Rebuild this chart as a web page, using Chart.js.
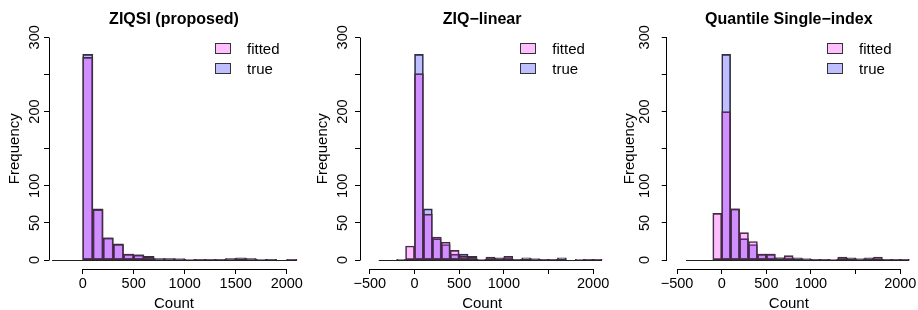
<!DOCTYPE html>
<html>
<head>
<meta charset="utf-8">
<script src="https://cdn.jsdelivr.net/npm/chart.js@4.4.0/dist/chart.umd.min.js"></script>
<style>
  body { margin: 0; background: #fff; width: 918px; height: 310px; position: relative; overflow: hidden; }
  canvas { position: absolute; top: 0; }
</style>
</head>
<body>
<canvas id="p1" width="306" height="310" style="left:0px"></canvas>
<canvas id="p2" width="306" height="310" style="left:306px"></canvas>
<canvas id="p3" width="306" height="310" style="left:612px"></canvas>
<script>
// histogram bins: left edges, each 100 wide
const binLefts = [-400, -300, -200, -100, 0, 100, 200, 300, 400, 500, 600, 700, 800,
                  900, 1000, 1100, 1200, 1300, 1400, 1500, 1600, 1700, 1800, 1900, 2000];
const binWidth = 100;

// counts per bin (null = bin not in that histogram)
const ziqsiFitted  = [null, 0, 0, 0, 273, 68, 30, 21, 8, 7, 4, 2, 2, 1, 1, 1, 1, 1, 2, 3, 2, 0, 1, 0, 1];
const ziqsiTrue    = [null, 0, 0, 0, 277, 69, 30, 22, 8, 7, 5, 2, 2, 2, 0, 1, 1, 1, 2, 2, 2, 1, 1, 0, 1];
const linearFitted = [0, 0, 1, 19, 251, 62, 31, 24, 13, 5, 4, 1, 4, 2, 5, 1, 3, 2, 1, 1, 1, 0, 1, 1, 1];
const linearTrue   = [0, 0, 0, 0, 277, 69, 29, 21, 8, 8, 5, 0, 3, 3, 3, 1, 1, 1, 1, 1, 3, 0, 0, 1, 1];
const qsiFitted    = [0, 0, 0, 63, 200, 69, 37, 25, 8, 8, 3, 6, 3, 1, 1, 1, 1, 4, 3, 2, 2, 4, 1, 1, 1];
const qsiTrue      = [0, 0, 0, 0, 277, 69, 29, 21, 8, 8, 3, 3, 2, 2, 1, 1, 0, 3, 2, 1, 3, 1, 1, 1, 1];

// axis ticks and their labels ('' = tick without label, as R drops overlapping ones)
const yTicks = [0, 50, 100, 150, 200, 250, 300];
const yTickLabels = ['0', '50', '100', '', '200', '', '300'];
const xTicks1 = [0, 500, 1000, 1500, 2000];
const xTickLabels1 = ['0', '500', '1000', '1500', '2000'];
const xTicks23 = [-500, 0, 500, 1000, 1500, 2000];
const xTickLabels23 = ['\u2212500', '0', '500', '1000', '', '2000'];

const legendLabels = ['fitted', 'true'];
const fittedColor = 'rgba(255, 0, 255, 0.25)';
const trueColor = 'rgba(0, 0, 255, 0.25)';
const edgeColor = '#333';

Chart.defaults.font.family = '"Liberation Sans", Arial, Helvetica, sans-serif';
Chart.defaults.color = '#000';

const FONT = '"Liberation Sans", Arial, Helvetica, sans-serif';

function align(p) { return Math.round(p - 0.5) + 0.5; }

const rPlot = {
  id: 'rPlot',
  afterDatasetsDraw(chart, args, opts) {
    // zero-height bins show up as the baseline in R
    const { ctx, scales: { x, y } } = chart;
    const first = opts.fitted.findIndex(v => v !== null);
    const x0 = x.getPixelForValue(binLefts[first]);
    const x1 = x.getPixelForValue(binLefts[binLefts.length - 1] + binWidth);
    const y0 = align(y.getPixelForValue(0));
    ctx.save();
    ctx.strokeStyle = '#222';
    ctx.lineWidth = 1;
    ctx.beginPath();
    ctx.moveTo(x0, y0); ctx.lineTo(x1, y0);
    ctx.stroke();
    ctx.restore();
  },
  afterDraw(chart, args, opts) {
    const { ctx, chartArea: a, scales: { x, y } } = chart;
    ctx.save();
    ctx.strokeStyle = '#000';
    ctx.lineWidth = 1;
    const xt = opts.xTicks;
    const by = align(a.bottom);
    const lx = align(a.left);
    ctx.beginPath();
    ctx.moveTo(align(x.getPixelForValue(xt[0])), by);
    ctx.lineTo(align(x.getPixelForValue(xt[xt.length - 1])), by);
    ctx.moveTo(lx, align(y.getPixelForValue(yTicks[0])));
    ctx.lineTo(lx, align(y.getPixelForValue(yTicks[yTicks.length - 1])));
    ctx.stroke();

    // rotated y tick labels
    ctx.fillStyle = '#000';
    ctx.font = '14.5px ' + FONT;
    ctx.textAlign = 'center';
    ctx.textBaseline = 'middle';
    yTicks.forEach((v, i) => {
      if (!yTickLabels[i]) return;
      ctx.save();
      ctx.translate(a.left - opts.tickGap, y.getPixelForValue(v));
      ctx.rotate(-Math.PI / 2);
      ctx.fillText(yTickLabels[i], 0, 0);
      ctx.restore();
    });

    // axis titles
    const cx = (a.left + a.right) / 2;
    ctx.font = '15px ' + FONT;
    ctx.textBaseline = 'alphabetic';
    ctx.fillText('Count', cx, 308);
    ctx.save();
    ctx.translate(a.left - opts.titleGap, (a.top + a.bottom) / 2);
    ctx.rotate(-Math.PI / 2);
    ctx.textBaseline = 'middle';
    ctx.fillText('Frequency', 0, 0);
    ctx.restore();

    // main title
    ctx.font = 'bold 16px ' + FONT;
    ctx.fillText(opts.title, cx, 24);

    // legend, top right, no box
    const bx = a.right - 84;
    [fittedColor, trueColor].forEach((c, i) => {
      const top = a.top + 14.6 + i * 20;
      ctx.fillStyle = c;
      ctx.fillRect(bx, top, 15, 10);
      ctx.strokeStyle = '#333';
      ctx.strokeRect(align(bx), align(top), 15, 10);
      ctx.fillStyle = '#000';
      ctx.font = '15px ' + FONT;
      ctx.textAlign = 'left';
      ctx.fillText(legendLabels[i], bx + 32, top + 11);
    });
    ctx.restore();
  }
};

function toPoints(counts) {
  return binLefts.map((b, i) => ({ x: b + binWidth / 2, y: counts[i] }));
}

function makePanel(id, cfg) {
  const ctx = document.getElementById(id).getContext('2d');
  const ds = (label, counts, color, order) => ({
    label, data: toPoints(counts), backgroundColor: color,
    borderColor: edgeColor, borderWidth: 1, borderSkipped: false, order
  });
  return new Chart(ctx, {
    type: 'bar',
    data: {
      datasets: [
        ds(legendLabels[0], cfg.fitted, fittedColor, 0),
        ds(legendLabels[1], cfg.truth, trueColor, 1)
      ]
    },
    options: {
      responsive: false,
      animation: false,
      devicePixelRatio: 1,
      grouped: false,
      barPercentage: 1,
      categoryPercentage: 1,
      layout: { padding: { top: 28.4, right: cfg.padR, left: 0, bottom: 0 } },
      plugins: {
        legend: { display: false },
        tooltip: { enabled: false },
        rPlot: { fitted: cfg.fitted, xTicks: cfg.xTicks, title: cfg.title, tickGap: cfg.tickGap, titleGap: cfg.titleGap }
      },
      scales: {
        x: {
          type: 'linear',
          min: cfg.xMin,
          max: cfg.xMax,
          offset: false,
          afterBuildTicks: s => { s.ticks = cfg.xTicks.map(v => ({ value: v })); },
          afterFit: s => { s.height = 41; },
          grid: { offset: false, drawOnChartArea: false, drawTicks: true, tickLength: 5, color: '#000', lineWidth: 1 },
          border: { display: false },
          ticks: {
            autoSkip: false,
            maxRotation: 0,
            minRotation: 0,
            padding: 1,
            font: { size: 14.5 },
            color: '#000',
            callback: v => cfg.xLabels[cfg.xTicks.indexOf(v)]
          }
        },
        y: {
          min: -12,
          max: 312,
          afterBuildTicks: s => { s.ticks = yTicks.map(v => ({ value: v })); },
          afterFit: s => { s.width = cfg.axisW; },
          grid: { offset: false, drawOnChartArea: false, drawTicks: true, tickLength: 5, color: '#000', lineWidth: 1 },
          border: { display: false },
          ticks: { display: false }
        }
      }
    },
    plugins: [rPlot]
  });
}

makePanel('p1', { title: 'ZIQSI (proposed)', fitted: ziqsiFitted, truth: ziqsiTrue,
  xTicks: xTicks1, xLabels: xTickLabels1, xMin: -330, xMax: 2120, axisW: 49, padR: 7, tickGap: 14, titleGap: 34 });
makePanel('p2', { title: 'ZIQ\u2212linear', fitted: linearFitted, truth: linearTrue,
  xTicks: xTicks23, xLabels: xTickLabels23, xMin: -610, xMax: 2125, axisW: 54, padR: 7.7, tickGap: 17, titleGap: 37 });
makePanel('p3', { title: 'Quantile Single\u2212index', fitted: qsiFitted, truth: qsiTrue,
  xTicks: xTicks23, xLabels: xTickLabels23, xMin: -616, xMax: 2120, axisW: 54.7, padR: 7, tickGap: 22, titleGap: 37 });
</script>
</body>
</html>
